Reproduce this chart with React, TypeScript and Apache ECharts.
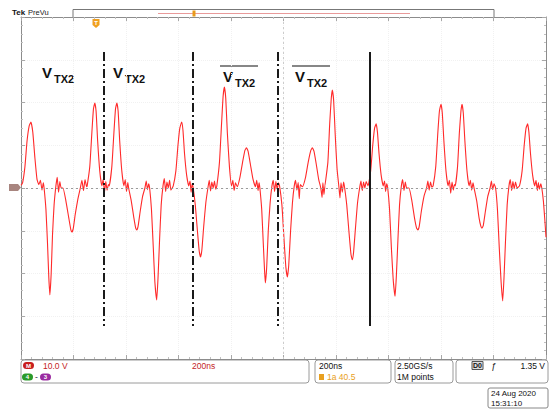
import React, { useEffect, useRef } from "react";
import * as echarts from "echarts";

// Time axis: 200 ns/div, 10 divisions. Vertical: 10 V/div, 8 divisions.
const timeMin = 0;
const timeMax = 2000;
const timeStep = 200;
const voltMin = -40;
const voltMax = 40;
const voltStep = 10;

// Trace samples [ns, V], in four chunks.
const traceA: [number, number][] = [
  [0, 0.6], [6, 1.2], [15, 5], [23, 11], [31, 14.5], [38, 15.4], [45, 13], [53, 7], [61, 2], [68, 0.8], [74, 1.8], [80, -0.5], [85, 1.2],
  [88, 0], [95, -5], [101, -13], [106, -21], [110, -25], [115, -20], [120, -11], [126, -4], [133, 0.5], [138, 2.5], [143, -1], [148, 1.5], [153, 0],
  [160, 0], [171, -3], [182, -7], [190, -9.8], [194, -10.3], [199, -9.5], [207, -6], [217, -2.5], [226, 0], [232, 1.8], [238, -0.6], [244, 2], [250, 0.3],
  [252, 0.5], [262, 5], [270, 13], [276, 18.5], [281, 19.9], [286, 18], [292, 11], [300, 4], [308, 0.5], [313, 2], [318, -1], [323, 1.5], [328, -0.5], [333, 0.8],
  [336, 0.5], [346, 5], [354, 13], [360, 18.5], [365, 19.9], [370, 18], [376, 11], [384, 4], [392, 0.5], [397, 2], [402, -0.8], [407, 1.3],
  [410, 0], [420, -3], [430, -7], [437, -9.4], [441, -9.8], [446, -9], [454, -5.5], [463, -2], [472, 0], [477, 1.6], [482, -0.4], [486, 1],
];
const traceB: [number, number][] = [
  [490, 0], [497, -5], [504, -14], [510, -22], [517, -26.2], [522, -21], [528, -12], [534, -4], [541, 0.5], [546, 2.2], [551, -0.8], [556, 1.4], [561, 0], [566, 1.8], [571, -0.5],
  [580, 0.5], [590, 4], [598, 10], [605, 14], [612, 15.4], [617, 13.5], [623, 8], [631, 3], [639, 0.5], [644, 1.6], [648, -1], [652, 1],
  [656, 0], [664, -4], [672, -10], [679, -14.8], [684, -16.1], [689, -14.5], [696, -9], [704, -3.5], [712, 0], [717, 1.8], [722, -0.7], [727, 1.4], [732, 0], [737, 1.6], [742, -0.3],
  [746, 0.5], [756, 6], [764, 15], [770, 21.5], [775, 23.6], [780, 21], [786, 13], [794, 5], [802, 0.5], [807, 1.8], [812, -0.6], [817, 1.2],
  [824, 0.3], [834, 2.5], [844, 6], [853, 8.8], [859, 9.4], [865, 8.6], [874, 5.5], [884, 2], [893, 0.3], [898, 1.8], [903, -0.6], [907, 1.2],
  [910, 0], [917, -5], [923, -13], [928, -19.5], [931, -22.2], [936, -18.5], [942, -10], [949, -3.5], [956, 0.5], [961, 1.8], [966, -0.8], [971, 1.5], [976, -0.3], [981, 1.2],
];
const traceC: [number, number][] = [
  [985, 0.5], [994, -4], [1002, -12], [1009, -18.5], [1015, -20.8], [1020, -18], [1027, -10], [1034, -3.5], [1041, 0.5], [1046, 1.8], [1051, -0.5], [1056, 1.3], [1060, -2.5], [1064, 0.8],
  [1072, 0.3], [1084, 2.5], [1094, 6], [1104, 8.8], [1110, 9.4], [1116, 8.6], [1125, 5.5], [1134, 2], [1142, 0], [1147, -2.2], [1150, 1.2], [1154, -1.5], [1158, 0.5],
  [1160, 0.5], [1169, 6], [1176, 15], [1182, 21], [1186, 22.9], [1191, 20.5], [1197, 12.5], [1204, 4.5], [1211, 0.3], [1215, -2.3], [1219, 1.2], [1224, -1], [1229, 1.4],
  [1233, 0], [1241, -4], [1249, -10], [1257, -15.5], [1262, -16.8], [1267, -15], [1274, -9.5], [1282, -3.5], [1290, 0], [1295, 1.6], [1300, -0.6], [1305, 1.4], [1310, 0], [1315, 1.5],
  [1322, 0.5], [1332, 4], [1340, 10], [1347, 14], [1353, 15], [1358, 13], [1364, 8], [1372, 3], [1380, 0.5], [1385, 1.6], [1389, -0.8], [1393, 1],
  [1397, 0], [1404, -5], [1411, -14], [1418, -21.5], [1425, -25.3], [1430, -20.5], [1436, -12], [1442, -4], [1449, 0.5], [1454, 2], [1459, -0.6], [1464, 1.4], [1469, 0],
];
const traceD: [number, number][] = [
  [1478, 0], [1489, -3], [1499, -7], [1507, -9.4], [1512, -9.8], [1517, -9], [1525, -5.5], [1535, -2], [1545, 0], [1550, 1.6], [1555, -0.5], [1560, 1.4], [1565, 0.2],
  [1570, 0.5], [1580, 5], [1588, 13], [1594, 18], [1600, 19.6], [1605, 17.5], [1611, 11], [1619, 4], [1627, 0.5], [1632, 1.8], [1637, -1.2], [1642, 1.4], [1647, -0.5], [1651, 0.8],
  [1654, 0.5], [1663, 5], [1670, 13], [1676, 18], [1680, 19.6], [1685, 17.5], [1691, 11], [1699, 4], [1707, 0.5], [1712, 1.8], [1717, -0.5], [1722, 1.2],
  [1726, 0], [1736, -3], [1745, -7], [1752, -9], [1756, -9.4], [1761, -8.8], [1769, -5.5], [1778, -2], [1787, 0], [1792, 1.6], [1797, -0.4], [1802, 1],
  [1808, 0], [1815, -5], [1822, -14], [1829, -22], [1835, -26.4], [1840, -21], [1846, -12], [1852, -4], [1859, 0.5], [1864, 2], [1869, -0.6], [1874, 1.5], [1879, -0.2], [1884, 1.4], [1890, 0],
  [1899, 0.5], [1909, 4], [1917, 10], [1924, 14], [1930, 15], [1935, 13], [1941, 8], [1949, 3], [1957, 0.5], [1962, 1.8], [1967, -0.6], [1971, 1.3], [1975, -0.3], [1980, 1],
  [1984, 0], [1990, -3], [1995, -7], [2000, -11.5],
];

// Annotation cursors (ns) and their vertical extent (V)
const dashDotCursors = [316, 655, 979];
const solidCursors = [1330];
const cursorTop = 31.8;
const cursorBottom = -32.3;

// Annotation labels
const labelMain = ["V", "V", "V", "V"];
const labelSub = ["TX2", "TX2", "TX2", "TX2"];
const labelOverline = [false, false, true, true];

// Readout texts
const readCh = "10.0 V";
const readTimeDiv = "200ns";
const readHoriz = "200ns";
const readTrigPos = "1a 40.5";
const readRate = "2.50GS/s";
const readPoints = "1M points";
const readTrigCh = "D0";
const readTrigLevel = "1.35 V";
const readDate = "24 Aug 2020";
const readTime = "15:31:10";

const GRID = { left: 21, top: 17, width: 525, height: 342 };
const FONT = "Liberation Sans, Arial, sans-serif";

function edgeX(position: "top" | "bottom") {
  return {
    type: "value",
    min: timeMin,
    max: timeMax,
    interval: timeStep,
    position,
    axisLine: { show: true, onZero: false, lineStyle: { color: "#8c8c8c", width: 1 } },
    axisTick: { show: true, inside: true, length: 4, lineStyle: { color: "#a8a8a8" } },
    minorTick: { show: true, splitNumber: 5, length: 2, lineStyle: { color: "#c0c0c0" } },
    axisLabel: { show: false },
    splitLine: { show: position === "bottom", lineStyle: { color: "#f1f1f1", type: "dotted" } },
  };
}
function edgeY(position: "left" | "right") {
  return {
    type: "value",
    min: voltMin,
    max: voltMax,
    interval: voltStep,
    position,
    axisLine: { show: true, onZero: false, lineStyle: { color: "#8c8c8c", width: 1 } },
    axisTick: { show: true, inside: true, length: 4, lineStyle: { color: "#a8a8a8" } },
    minorTick: { show: true, splitNumber: 5, length: 2, lineStyle: { color: "#c0c0c0" } },
    axisLabel: { show: false },
    splitLine: { show: position === "left", lineStyle: { color: "#f1f1f1", type: "dotted" } },
  };
}

function txt(x: number, y: number, text: string, fill: string, size = 8.5, weight: any = "normal", align = "left") {
  return {
    type: "text",
    x,
    y,
    style: { text, fill, font: `${weight} ${size}px ${FONT}`, textAlign: align, textVerticalAlign: "middle" },
    silent: true,
  };
}
function box(x: number, y: number, w: number, h: number, r = 3, stroke = "#9a9a9a") {
  return { type: "rect", shape: { x, y, width: w, height: h, r }, style: { fill: "none", stroke, lineWidth: 1 }, silent: true };
}
function badge(x: number, y: number, fill: string, t: string) {
  return {
    type: "group",
    children: [
      { type: "rect", shape: { x, y, width: 11, height: 7, r: 3.5 }, style: { fill } },
      { type: "text", x: x + 5.5, y: y + 3.6, style: { text: t, fill: "#fff", font: `bold 6px ${FONT}`, textAlign: "center", textVerticalAlign: "middle" } },
    ],
    silent: true,
  };
}

export default function App() {
  const ref = useRef<HTMLDivElement>(null);
  useEffect(() => {
    if (!ref.current) return;
    const chart = echarts.init(ref.current, null, { renderer: "svg" });
    const trace = [...traceA, ...traceB, ...traceC, ...traceD];

    const cursorLines: any[] = [];
    dashDotCursors.forEach((t) => {
      cursorLines.push([
        { coord: [t, cursorTop], lineStyle: { color: "#1a1a1a", width: 2, type: [9, 3, 2, 3] } },
        { coord: [t, cursorBottom] },
      ]);
    });
    solidCursors.forEach((t) => {
      cursorLines.push([
        { coord: [t, cursorTop], lineStyle: { color: "#1a1a1a", width: 2, type: "solid" } },
        { coord: [t, cursorBottom] },
      ]);
    });

    // label positions (pixels)
    const labelPos = [
      { x: 42, y: 72.5, sy: 79 },
      { x: 113, y: 72.5, sy: 79 },
      { x: 223, y: 76, sy: 83 },
      { x: 295, y: 76, sy: 83 },
    ];
    const labelGraphics: any[] = [];
    labelPos.forEach((p, i) => {
      labelGraphics.push(txt(p.x, p.y, labelMain[i], "#111", 15, "bold"));
      labelGraphics.push(txt(p.x + 12, p.sy, labelSub[i], "#111", 11, "bold"));
      if (labelOverline[i]) {
        labelGraphics.push({
          type: "line",
          shape: { x1: p.x - 3, y1: 66, x2: p.x + 35, y2: 66 },
          style: { stroke: "#111", lineWidth: 1.2 },
          silent: true,
        });
      }
    });

    const option: any = {
      animation: false,
      backgroundColor: "#ffffff",
      grid: { ...GRID, show: false },
      xAxis: [edgeX("bottom"), edgeX("top")],
      yAxis: [edgeY("left"), edgeY("right")],
      series: [
        {
          type: "line",
          data: trace,
          showSymbol: false,
          symbol: "none",
          smooth: 0.15,
          lineStyle: { color: "#ff2a2a", width: 1.1 },
          z: 3,
          markLine: {
            silent: true,
            symbol: ["none", "none"],
            label: { show: false },
            data: [
              { yAxis: 0, lineStyle: { color: "#9a9a9a", width: 1, type: [2, 3] } },
              { xAxis: (timeMin + timeMax) / 2, lineStyle: { color: "#cccccc", width: 1, type: [2, 3] } },
              ...cursorLines,
            ],
          },
        },
      ],
      graphic: [
        // channel ground marker
        {
          type: "polygon",
          shape: { points: [[9, 184], [18, 184], [21, 187.5], [18, 191], [9, 191]] },
          style: { fill: "#a8857f" },
          silent: true,
        },
        // top bar
        txt(12, 12, "Tek", "#111", 8, "bold"),
        txt(28, 12, "PreVu", "#222", 7.5),
        { type: "rect", shape: { x: 73, y: 9.5, width: 421, height: 8 }, style: { fill: "#fff", stroke: "#777", lineWidth: 1 }, silent: true },
        { type: "line", shape: { x1: 158, y1: 13.5, x2: 410, y2: 13.5 }, style: { stroke: "#e99a9a", lineWidth: 1 }, silent: true },
        { type: "rect", shape: { x: 192.5, y: 10.5, width: 3, height: 6 }, style: { fill: "#e89a1a" }, silent: true },
        { type: "polygon", shape: { points: [[92.5, 19], [99.5, 19], [99.5, 25], [96, 28], [92.5, 25]] }, style: { fill: "#f0a020" }, silent: true },
        txt(96, 23, "T", "#fff", 6, "bold", "center"),
        ...labelGraphics,
        // readout boxes
        box(21, 360, 288, 23),
        badge(23, 362, "#c81e1e", "M"),
        txt(43, 365.5, readCh, "#c41e1e"),
        txt(192, 365.5, readTimeDiv, "#c41e1e"),
        badge(22, 373.5, "#2a9a2a", "4"),
        txt(35, 377, "-", "#333"),
        badge(40, 373.5, "#9a2aa0", "3"),
        box(315, 360, 76, 23),
        txt(319, 365.5, readHoriz, "#111"),
        { type: "rect", shape: { x: 319, y: 374, width: 5, height: 6 }, style: { fill: "#e8a020" }, silent: true },
        txt(327, 377, readTrigPos, "#e8a020"),
        box(395, 360, 58, 23),
        txt(397, 365.5, readRate, "#111"),
        txt(397, 377, readPoints, "#111"),
        box(456, 360, 92, 23),
        { type: "rect", shape: { x: 472, y: 361.5, width: 11, height: 8 }, style: { fill: "#ddd", stroke: "#555", lineWidth: 1 }, silent: true },
        txt(477.5, 365.5, readTrigCh, "#111", 7, "bold", "center"),
        txt(491, 365.5, "\u0192", "#111", 9, "italic"),
        txt(545, 365.5, readTrigLevel, "#111", 8.5, "normal", "right"),
        box(488, 388, 60, 20, 2, "#888"),
        txt(491, 393.5, readDate, "#111", 8),
        txt(491, 403, readTime, "#111", 8),
      ],
    };
    chart.setOption(option);
    return () => chart.dispose();
  }, []);
  return (
    <div
      ref={ref}
      style={{ position: "absolute", left: 0, top: 0, width: 553, height: 409, background: "#fff" }}
    />
  );
}
